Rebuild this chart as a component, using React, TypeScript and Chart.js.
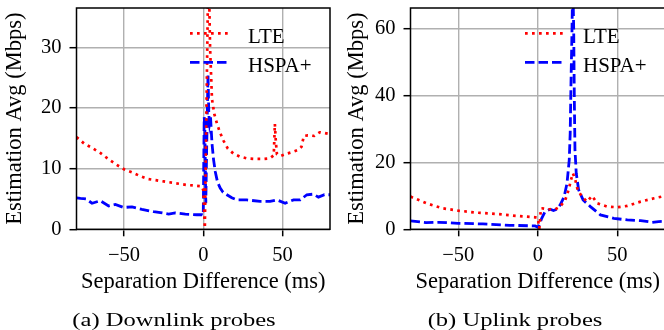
import React, { useEffect, useRef } from 'react';
import { Chart, registerables } from 'chart.js';

Chart.register(...registerables);

const FONT = "'Liberation Serif', 'Times New Roman', serif";

const seriesNames = ['LTE', 'HSPA+'];
const xTicks = [-50, 0, 50];
const dlYTicks = [0, 10, 20, 30];
const ulYTicks = [0, 20, 40, 60];
const captions = ['(a) Downlink probes', '(b) Uplink probes'];
const xTitle = 'Separation Difference (ms)';
const yTitle = 'Estimation Avg (Mbps)';

// Downlink probes
const dlLteX = [-80, -75, -70, -65, -60, -55, -50, -45, -40, -35, -30, -25, -20, -15, -10, -5, -1, 0, 1, 3.3, 4.3, 5.5, 7, 8.6, 10.5, 12.8, 15.5, 19, 23, 27.5, 33, 38, 42, 44.5, 45.2, 45.8, 46.5, 49, 53, 57, 60, 62, 63.5, 66, 70, 73.5, 76, 80];
const dlLteY = [15.2, 14.1, 13.4, 12.6, 11.6, 10.7, 9.9, 9.4, 8.8, 8.3, 8.1, 7.9, 7.7, 7.5, 7.3, 7.2, 7.1, 6.5, 0.2, 45, 30, 21.5, 19, 17.5, 16, 14.6, 13.3, 12.5, 12, 11.7, 11.6, 11.6, 11.7, 12.2, 17.4, 14.5, 12.4, 12.1, 12.5, 12.8, 13.1, 13.6, 15.4, 15.5, 15.4, 16.0, 15.9, 15.7];
const dlHspaX = [-80, -77.5, -74, -70.2, -65, -59.7, -55.5, -50.2, -45, -38.7, -31.3, -27, -21.8, -17.7, -11.3, -4, -0.8, 0, 0.6, 1.0, 1.6, 2.2, 3.0, 3.5, 4.0, 4.6, 5.5, 6.5, 7.6, 9, 10.7, 12.5, 14.9, 18, 21.2, 27.5, 35.9, 42.2, 46.5, 51.7, 57, 61.2, 65.4, 69.5, 72.7, 76.5, 80];
const dlHspaY = [5.2, 5.1, 5.0, 4.3, 4.7, 3.85, 4.1, 3.6, 3.7, 3.3, 2.9, 2.75, 2.5, 2.7, 2.5, 2.4, 2.4, 2.3, 18.5, 17, 4.3, 14, 25.5, 19, 17.5, 18.5, 14.2, 11.5, 9.5, 7.8, 6.8, 6.1, 5.7, 5.2, 4.85, 4.85, 4.6, 4.6, 4.85, 4.3, 4.85, 4.85, 5.7, 5.8, 5.3, 5.7, 5.7];

// Uplink probes
const ulLteX = [-80, -70, -60, -50, -38.6, -25.9, -13.3, -1.7, 0, 1, 2, 2.5, 6.7, 11, 14.1, 17.3, 19.4, 20.9, 22.1, 23.6, 25.1, 27.8, 31, 34.2, 37.3, 43.7, 50, 56.3, 64.7, 73.2, 80];
const ulLteY = [9.8, 7.8, 6.3, 5.6, 5.0, 4.6, 4.0, 3.6, 3.4, 0.3, 6.3, 6.3, 6.0, 6.0, 6.8, 8.8, 11.8, 14.8, 16.8, 14.8, 11.8, 9.8, 8.3, 10.0, 7.8, 6.8, 6.6, 7.0, 8.3, 9.3, 10.0];
const ulHspaX = [-80, -70.3, -62, -50, -34.5, -17.7, -1.7, 0.3, 2.5, 4.6, 7.8, 9.9, 12, 14.1, 16.6, 18.4, 19.8, 20.4, 20.9, 21.5, 22, 22.6, 23, 23.4, 24.2, 25.7, 28.5, 33.1, 39.4, 47.8, 56.3, 64.7, 72, 76, 80];
const ulHspaY = [2.5, 2.0, 2.1, 1.8, 1.6, 1.2, 1.0, 0.6, 3.3, 5.3, 6.0, 5.6, 6.0, 7.3, 9.8, 13.8, 20.8, 28.8, 43.8, 58.8, 75, 60, 38.8, 23.8, 16.8, 11.8, 8.8, 6.8, 4.3, 3.3, 2.8, 2.6, 2.1, 2.3, 2.4];

const toPts = (xs: number[], ys: number[]) => xs.map((x, i) => ({ x, y: ys[i] }));
const fmt = (v: number) => (v < 0 ? '\u2212' + Math.abs(v) : String(v));

const decor = {
  id: 'decor',
  afterDatasetsDraw(chart: any, _args: any, opts: any) {
    const { ctx, chartArea: a } = chart;
    ctx.save();
    ctx.setLineDash([]);
    ctx.strokeStyle = '#000';
    ctx.lineWidth = 1.5;
    ctx.strokeRect(a.left, a.top, a.right - a.left, a.bottom - a.top);
    chart.data.datasets.forEach((ds: any, i: number) => {
      const y = a.top + 25.3 + i * 29;
      ctx.beginPath();
      ctx.setLineDash(ds.borderDash);
      ctx.strokeStyle = ds.borderColor;
      ctx.lineWidth = ds.borderWidth;
      ctx.moveTo(a.right - 140, y);
      ctx.lineTo(a.right - 100, y);
      ctx.stroke();
      ctx.setLineDash([]);
      ctx.fillStyle = '#000';
      ctx.font = `21px ${FONT}`;
      ctx.textBaseline = 'alphabetic';
      ctx.textAlign = 'left';
      ctx.fillText(ds.label, a.right - 82, y + 9.6);
    });
    ctx.font = `19.5px ${FONT}`;
    ctx.textAlign = 'center';
    ctx.textBaseline = 'alphabetic';
    ctx.fillStyle = '#000';
    ctx.translate(opts.captionX, 325.5);
    ctx.scale(1.26, 1);
    ctx.fillText(opts.caption, 0, 0);
    ctx.restore();
  },
};

type PanelProps = {
  left: number;
  width: number;
  lteX: number[];
  lteY: number[];
  hspaX: number[];
  hspaY: number[];
  yMax: number;
  yTicks: number[];
  yWidth: number;
  yTitlePad: number;
  padRight: number;
  caption: string;
  captionX: number;
};

function Panel(p: PanelProps) {
  const ref = useRef<HTMLCanvasElement | null>(null);
  useEffect(() => {
    if (!ref.current) return;
    const grid = { color: '#b0b0b0', lineWidth: 1.4, tickColor: '#000', tickLength: 7, tickWidth: 1.5, drawTicks: true };
    const chart = new Chart(ref.current, {
      type: 'line',
      data: {
        datasets: [
          {
            label: seriesNames[0],
            data: toPts(p.lteX, p.lteY),
            borderColor: '#ff0000',
            borderWidth: 2.7,
            borderDash: [2.7, 4.3],
            pointRadius: 0,
            fill: false,
            tension: 0,
          },
          {
            label: seriesNames[1],
            data: toPts(p.hspaX, p.hspaY),
            borderColor: '#0000ff',
            borderWidth: 2.8,
            borderDash: [9.5, 4],
            pointRadius: 0,
            fill: false,
            tension: 0,
          },
        ],
      },
      options: {
        animation: false,
        responsive: false,
        devicePixelRatio: 1,
        layout: { padding: { left: 0, top: 8, right: p.padRight, bottom: 36.7 } },
        plugins: {
          legend: { display: false },
          tooltip: { enabled: false },
          decor: { caption: p.caption, captionX: p.captionX },
        } as any,
        scales: {
          x: {
            type: 'linear',
            min: -80,
            max: 80,
            afterBuildTicks: (s: any) => {
              s.ticks = xTicks.map((v) => ({ value: v }));
            },
            afterFit: (s: any) => {
              s.height = 64;
              s.paddingLeft = 0;
              s.paddingRight = 0;
            },
            grid,
            border: { display: false },
            ticks: {
              color: '#000',
              font: { family: FONT, size: 20.5, lineHeight: 1 },
              padding: 9,
              maxRotation: 0,
              autoSkip: false,
              callback: (v: any) => fmt(Number(v)),
            },
            title: {
              display: true,
              text: xTitle,
              color: '#000',
              font: { family: FONT, size: 22.5, lineHeight: 1 },
              padding: { top: 0, bottom: 0 },
            },
          },
          y: {
            type: 'linear',
            min: 0,
            max: p.yMax,
            afterBuildTicks: (s: any) => {
              s.ticks = p.yTicks.map((v) => ({ value: v }));
            },
            afterFit: (s: any) => {
              s.width = p.yWidth;
              s.paddingTop = 0;
              s.paddingBottom = 0;
            },
            grid,
            border: { display: false },
            ticks: {
              color: '#000',
              font: { family: FONT, size: 20.5, lineHeight: 1 },
              padding: 8,
              autoSkip: false,
              callback: (v: any) => fmt(Number(v)),
            },
            title: {
              display: true,
              text: yTitle,
              color: '#000',
              font: { family: FONT, size: 22.5, lineHeight: 1 },
              padding: { top: p.yTitlePad, bottom: 0 },
            },
          },
        },
      },
      plugins: [decor],
    } as any);
    return () => chart.destroy();
  }, []);
  return (
    <canvas
      ref={ref}
      width={p.width}
      height={330}
      style={{ position: 'absolute', left: p.left, top: 0, display: 'block' }}
    />
  );
}

export default function App() {
  return (
    <div
      style={{
        position: 'fixed',
        left: 0,
        top: 0,
        width: 664,
        height: 330,
        overflow: 'hidden',
        background: '#fff',
      }}
    >
      <Panel
        left={0}
        width={332}
        lteX={dlLteX}
        lteY={dlLteY}
        hspaX={dlHspaX}
        hspaY={dlHspaY}
        yMax={36.5}
        yTicks={dlYTicks}
        yWidth={76.5}
        yTitlePad={4}
        padRight={2}
        caption={captions[0]}
        captionX={174}
      />
      <Panel
        left={332}
        width={340}
        lteX={ulLteX}
        lteY={ulLteY}
        hspaX={ulHspaX}
        hspaY={ulHspaY}
        yMax={66.3}
        yTicks={ulYTicks}
        yWidth={78.5}
        yTitlePad={13.75}
        padRight={7}
        caption={captions[1]}
        captionX={183}
      />
    </div>
  );
}
